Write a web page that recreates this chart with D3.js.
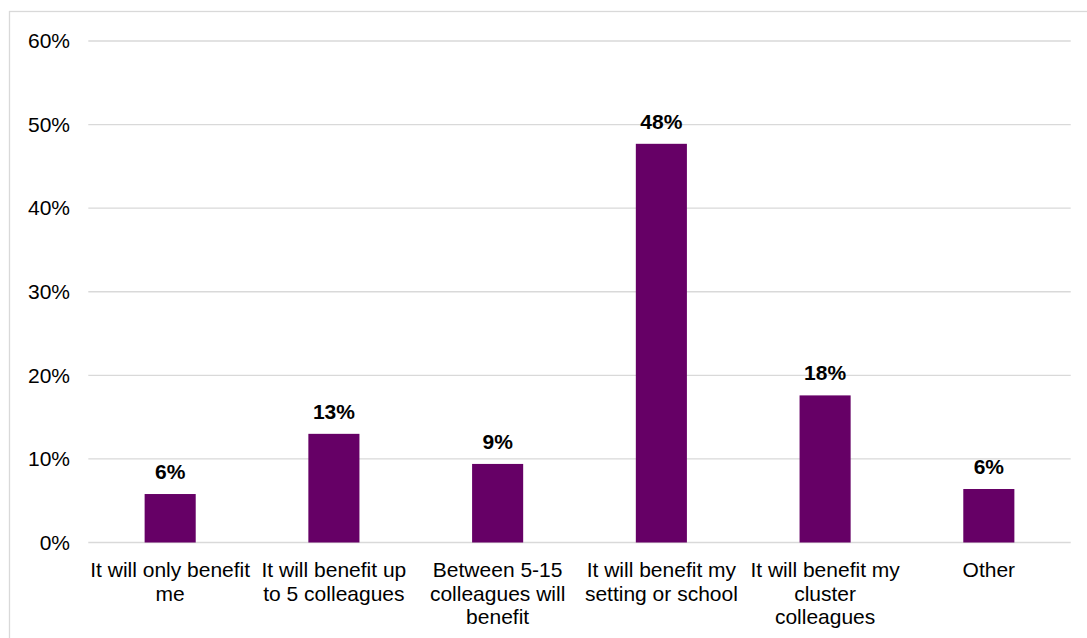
<!DOCTYPE html>
<html>
<head>
<meta charset="utf-8">
<script src="https://cdn.jsdelivr.net/npm/d3@7"></script>
<style>
  html, body { margin: 0; padding: 0; background: #ffffff; }
  svg { display: block; }
</style>
</head>
<body>
<svg id="chart" width="1087" height="638"></svg>
<script>
const categories = [
  "It will only benefit me",
  "It will benefit up to 5 colleagues",
  "Between 5-15 colleagues will benefit",
  "It will benefit my setting or school",
  "It will benefit my cluster colleagues",
  "Other"
];
const values = [5.8, 13.0, 9.4, 47.7, 17.6, 6.4];
const dataLabels = ["6%", "13%", "9%", "48%", "18%", "6%"];
const yTicks = [0, 10, 20, 30, 40, 50, 60];

(function () {
const svg = d3.select("#chart");
const W = 1087, H = 638;
const plotLeft = 88.3, plotRight = 1070.7, plotTop = 41, plotBottom = 542.5;
const font = "'Liberation Sans', Arial, sans-serif";

// outer frame
svg.append("rect")
  .attr("x", 9.5).attr("y", 11.5)
  .attr("width", W + 20).attr("height", H + 20)
  .attr("fill", "none").attr("stroke", "#d9d9d9").attr("stroke-width", 1.3);

const x = d3.scaleBand().domain(categories).range([plotLeft, plotRight])
  .paddingInner(0.688).paddingOuter(0.344);
const y = d3.scaleLinear().domain([0, 60]).range([plotBottom, plotTop]);

// gridlines
svg.append("g").selectAll("line").data(yTicks).join("line")
  .attr("x1", plotLeft).attr("x2", plotRight)
  .attr("y1", d => y(d)).attr("y2", d => y(d))
  .attr("stroke", "#d9d9d9").attr("stroke-width", 1.3);

// y axis labels
const yAxis = d3.axisLeft(y).tickValues(yTicks).tickFormat(d => d + "%").tickSize(0).tickPadding(0);
const gy = svg.append("g").attr("transform", `translate(70,0)`).call(yAxis);
gy.select(".domain").remove();
gy.selectAll("text").attr("font-family", font).attr("font-size", 21).attr("fill", "#000");

// bars
svg.append("g").selectAll("rect").data(values).join("rect")
  .attr("x", (d, i) => x(categories[i]))
  .attr("width", x.bandwidth())
  .attr("y", d => y(d))
  .attr("height", d => y(0) - y(d))
  .attr("fill", "#660066");

// data labels
svg.append("g").selectAll("text").data(values).join("text")
  .attr("x", (d, i) => x(categories[i]) + x.bandwidth() / 2)
  .attr("y", d => y(d) - 15)
  .attr("text-anchor", "middle")
  .attr("font-family", font).attr("font-size", 21).attr("font-weight", "bold")
  .attr("fill", "#000")
  .text((d, i) => dataLabels[i]);

// category labels with wrapping
const xAxis = d3.axisBottom(x).tickSize(0).tickPadding(0);
const gx = svg.append("g").attr("transform", `translate(0,${plotBottom})`).call(xAxis);
gx.select(".domain").remove();
gx.selectAll("text")
  .attr("font-family", font).attr("font-size", 21).attr("fill", "#000")
  .attr("y", 0).attr("dy", null)
  .each(function(d) {
    const t = d3.select(this);
    const words = d.split(" ");
    t.text(null);
    const maxW = x.step() - 1;
    let lines = [], cur = [];
    const probe = t.append("tspan");
    words.forEach(w => {
      cur.push(w);
      probe.text(cur.join(" "));
      if (probe.node().getComputedTextLength() > maxW && cur.length > 1) {
        cur.pop();
        lines.push(cur.join(" "));
        cur = [w];
      }
    });
    lines.push(cur.join(" "));
    probe.remove();
    lines.forEach((ln, i) => {
      t.append("tspan").attr("x", 0).attr("y", 34.5 + i * 23.5).text(ln);
    });
  });
})();
</script>
</body>
</html>
